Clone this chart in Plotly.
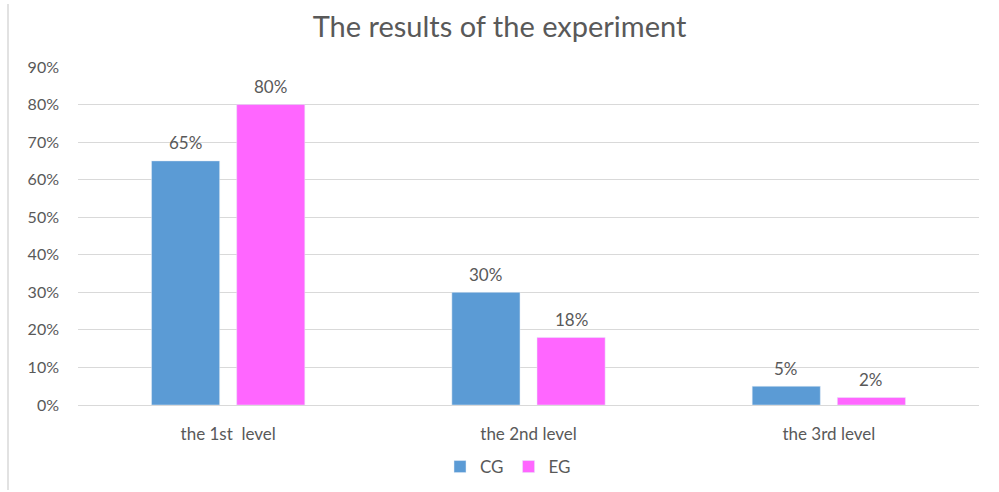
import plotly.graph_objects as go

categories = ["the 1st  level", "the 2nd level", "the 3rd level"]
cg_values = [0.65, 0.30, 0.05]
eg_values = [0.80, 0.18, 0.02]
y_ticks = [0, 0.1, 0.2, 0.3, 0.4, 0.5, 0.6, 0.7, 0.8, 0.9]

FONT = "Lato, Open Sans, sans-serif"
GREY = "#595959"
CG_COLOR = "#5B9BD5"
EG_COLOR = "#FF66FF"

W, H = 999, 492
ml, mr, mt, mb = 78, 20, 67, 87
pw = W - ml - mr
ph = H - mt - mb

BARGAP = 0.433
BARGROUPGAP = 0.2

fig = go.Figure()
fig.add_trace(go.Bar(name="CG", x=categories, y=cg_values, marker_color=CG_COLOR))
fig.add_trace(go.Bar(name="EG", x=categories, y=eg_values, marker_color=EG_COLOR))

# value labels above each bar, centred on its slot within the group
slot_px = pw / len(categories) * (1 - BARGAP) / 2
for values, side in ((cg_values, -1), (eg_values, 1)):
    for cat, v in zip(categories, values):
        fig.add_annotation(x=cat, y=v, text=f"{v:.0%}", showarrow=False,
                           xshift=side * slot_px / 2, yshift=18, yanchor="middle",
                           font=dict(size=17, color=GREY, family=FONT))

fig.update_layout(
    width=W, height=H,
    margin=dict(l=ml, r=mr, t=mt, b=mb, autoexpand=False),
    paper_bgcolor="white", plot_bgcolor="white",
    barmode="group", bargap=BARGAP, bargroupgap=BARGROUPGAP,
    font=dict(family=FONT, color=GREY, size=15),
    title=dict(text="The results of the experiment", x=0.5, xanchor="center",
               y=1 - 27 / H, yanchor="middle",
               font=dict(size=29, color=GREY, family=FONT)),
    legend=dict(orientation="h", x=(508 - ml) / pw, xanchor="center",
                yref="container", y=1 - 467 / H, yanchor="middle",
                font=dict(size=17, color=GREY, family=FONT), itemwidth=30,
                traceorder="normal"),
    showlegend=True,
)
fig.update_yaxes(range=[0, 0.9], tickvals=y_ticks, tickformat=".0%",
                 showgrid=True, gridcolor="#D9D9D9", gridwidth=1,
                 zeroline=False, showline=False, ticks="", ticklabelstandoff=18,
                 tickfont=dict(size=16, color=GREY, family=FONT))
fig.update_xaxes(showline=True, linecolor="#D9D9D9", linewidth=1, ticks="",
                 ticklabelstandoff=14,
                 tickfont=dict(size=17, color=GREY, family=FONT))

# light frame line along the left edge of the chart area
fig.add_shape(type="line", xref="paper", yref="paper",
              x0=(8 - ml) / pw, x1=(8 - ml) / pw,
              y0=-(mb - 2) / ph, y1=1 + (mt - 4) / ph,
              line=dict(color="#D9D9D9", width=1.5))

fig.write_html("out.html")
